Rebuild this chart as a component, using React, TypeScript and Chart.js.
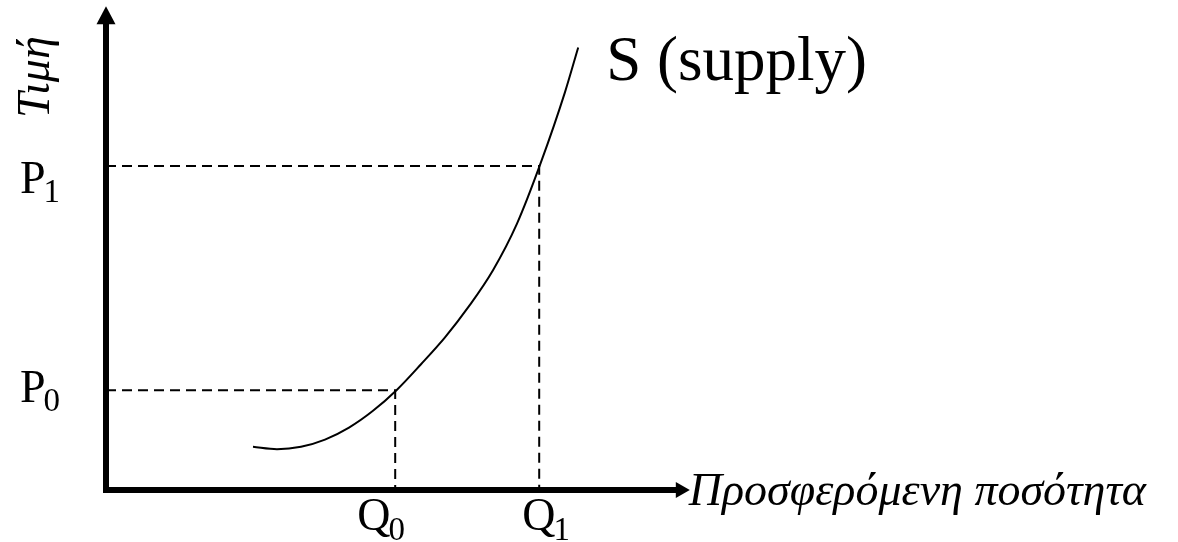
import React, { useEffect, useRef } from "react";
import { Chart, registerables } from "chart.js";

Chart.register(...registerables);

// Supply curve (quantity, price)
const supplyQ = [2.45, 2.85, 3.25, 3.65, 4.05, 4.45, 4.85, 5.25, 5.65, 6.05, 6.45, 6.85, 7.25, 7.65, 7.87];
const supplyP = [0.9, 0.85, 0.9, 1.05, 1.3, 1.65, 2.09, 2.62, 3.18, 3.83, 4.58, 5.55, 6.83, 8.29, 9.22];

// Reference points
const quantities = [4.82, 7.22];
const prices = [2.08, 6.75];
const priceLabels = ["P", "P"];
const priceSubs = ["0", "1"];
const quantityLabels = ["Q", "Q"];
const quantitySubs = ["0", "1"];

// Axes
const axisEnds = [9.73, 10.08]; // x arrow tip, y arrow tip
const xTitle = "Προσφερόμενη ποσότητα";
const yTitle = "Τιμή";
const curveLabel = "S (supply)";

const FONT = '"Liberation Serif", "Times New Roman", serif';

const drawPlugin = {
  id: "econDecor",
  afterDatasetsDraw(chart: any) {
    const { ctx, scales } = chart;
    const xs = scales.x;
    const ys = scales.y;
    const x0 = xs.getPixelForValue(0);
    const y0 = ys.getPixelForValue(0);
    const xEnd = xs.getPixelForValue(axisEnds[0]);
    const yEnd = ys.getPixelForValue(axisEnds[1]);
    ctx.save();
    ctx.fillStyle = "#000";
    ctx.strokeStyle = "#000";
    // y axis
    ctx.lineWidth = 6;
    ctx.beginPath();
    ctx.moveTo(x0, y0 + 3);
    ctx.lineTo(x0, yEnd + 14);
    ctx.stroke();
    ctx.beginPath();
    ctx.moveTo(x0, yEnd);
    ctx.lineTo(x0 - 9.5, yEnd + 18);
    ctx.lineTo(x0 + 9.5, yEnd + 18);
    ctx.closePath();
    ctx.fill();
    // x axis
    ctx.lineWidth = 6;
    ctx.beginPath();
    ctx.moveTo(x0 - 3, y0);
    ctx.lineTo(xEnd - 12, y0);
    ctx.stroke();
    ctx.beginPath();
    ctx.moveTo(xEnd, y0);
    ctx.lineTo(xEnd - 14, y0 - 8);
    ctx.lineTo(xEnd - 14, y0 + 8);
    ctx.closePath();
    ctx.fill();

    // x title
    ctx.textBaseline = "alphabetic";
    ctx.textAlign = "left";
    ctx.font = `italic 46px ${FONT}`;
    ctx.fillText(xTitle, xEnd - 1, y0 + 15);

    // y title rotated
    ctx.save();
    ctx.translate(x0 - 57, yEnd + 71);
    ctx.rotate(-Math.PI / 2);
    ctx.textAlign = "center";
    ctx.font = `italic 46px ${FONT}`;
    ctx.fillText(yTitle, 0, 0);
    ctx.restore();

    // price labels
    const pOffsets = [12, 27];
    prices.forEach((p, i) => {
      const py = ys.getPixelForValue(p);
      ctx.textAlign = "left";
      ctx.font = `46px ${FONT}`;
      ctx.fillText(priceLabels[i], 20, py + pOffsets[i]);
      const w = ctx.measureText(priceLabels[i]).width;
      ctx.font = `33px ${FONT}`;
      ctx.fillText(priceSubs[i], 20 + w - 2, py + pOffsets[i] + 9);
    });

    // quantity labels
    const qOffsets = [-38, -17];
    quantities.forEach((q, i) => {
      const qx = xs.getPixelForValue(q);
      ctx.textAlign = "left";
      ctx.font = `46px ${FONT}`;
      ctx.fillText(quantityLabels[i], qx + qOffsets[i], y0 + 40);
      const w = ctx.measureText(quantityLabels[i]).width;
      ctx.font = `33px ${FONT}`;
      ctx.fillText(quantitySubs[i], qx + qOffsets[i] + w - 2, y0 + 50);
    });

    // curve label
    const lastX = xs.getPixelForValue(supplyQ[supplyQ.length - 1]);
    const lastY = ys.getPixelForValue(supplyP[supplyP.length - 1]);
    ctx.textAlign = "left";
    ctx.font = `63px ${FONT}`;
    ctx.fillText(curveLabel, lastX + 28, lastY + 33);
    ctx.restore();
  },
};

export default function App() {
  const ref = useRef<HTMLCanvasElement | null>(null);
  useEffect(() => {
    if (!ref.current) return;
    const dashed = quantities.map((q, i) => ({
      data: [
        { x: 0, y: prices[i] },
        { x: q, y: prices[i] },
        { x: q, y: 0 },
      ],
      showLine: true,
      borderColor: "#000",
      borderWidth: 2,
      borderDash: [10, 6],
      pointRadius: 0,
      tension: 0,
      clip: false as any,
    }));
    const chart = new Chart(ref.current, {
      type: "scatter",
      data: {
        datasets: [
          {
            data: supplyQ.map((q, i) => ({ x: q, y: supplyP[i] })),
            showLine: true,
            borderColor: "#000",
            borderWidth: 2,
            pointRadius: 0,
            cubicInterpolationMode: "monotone",
            clip: false as any,
          },
          ...dashed,
        ],
      },
      options: {
        animation: false,
        responsive: false,
        layout: { padding: { left: 106, right: 472, top: 10, bottom: 52 } },
        plugins: { legend: { display: false }, tooltip: { enabled: false } },
        scales: {
          x: { type: "linear", min: 0, max: 10, display: false },
          y: { type: "linear", min: 0, max: 10, display: false },
        },
      },
      plugins: [drawPlugin],
    });
    return () => chart.destroy();
  }, []);
  return (
    <div style={{ position: "fixed", left: 0, top: 0, width: 1178, height: 542, background: "#fff" }}>
      <canvas ref={ref} width={1178} height={542} style={{ display: "block" }} />
    </div>
  );
}
